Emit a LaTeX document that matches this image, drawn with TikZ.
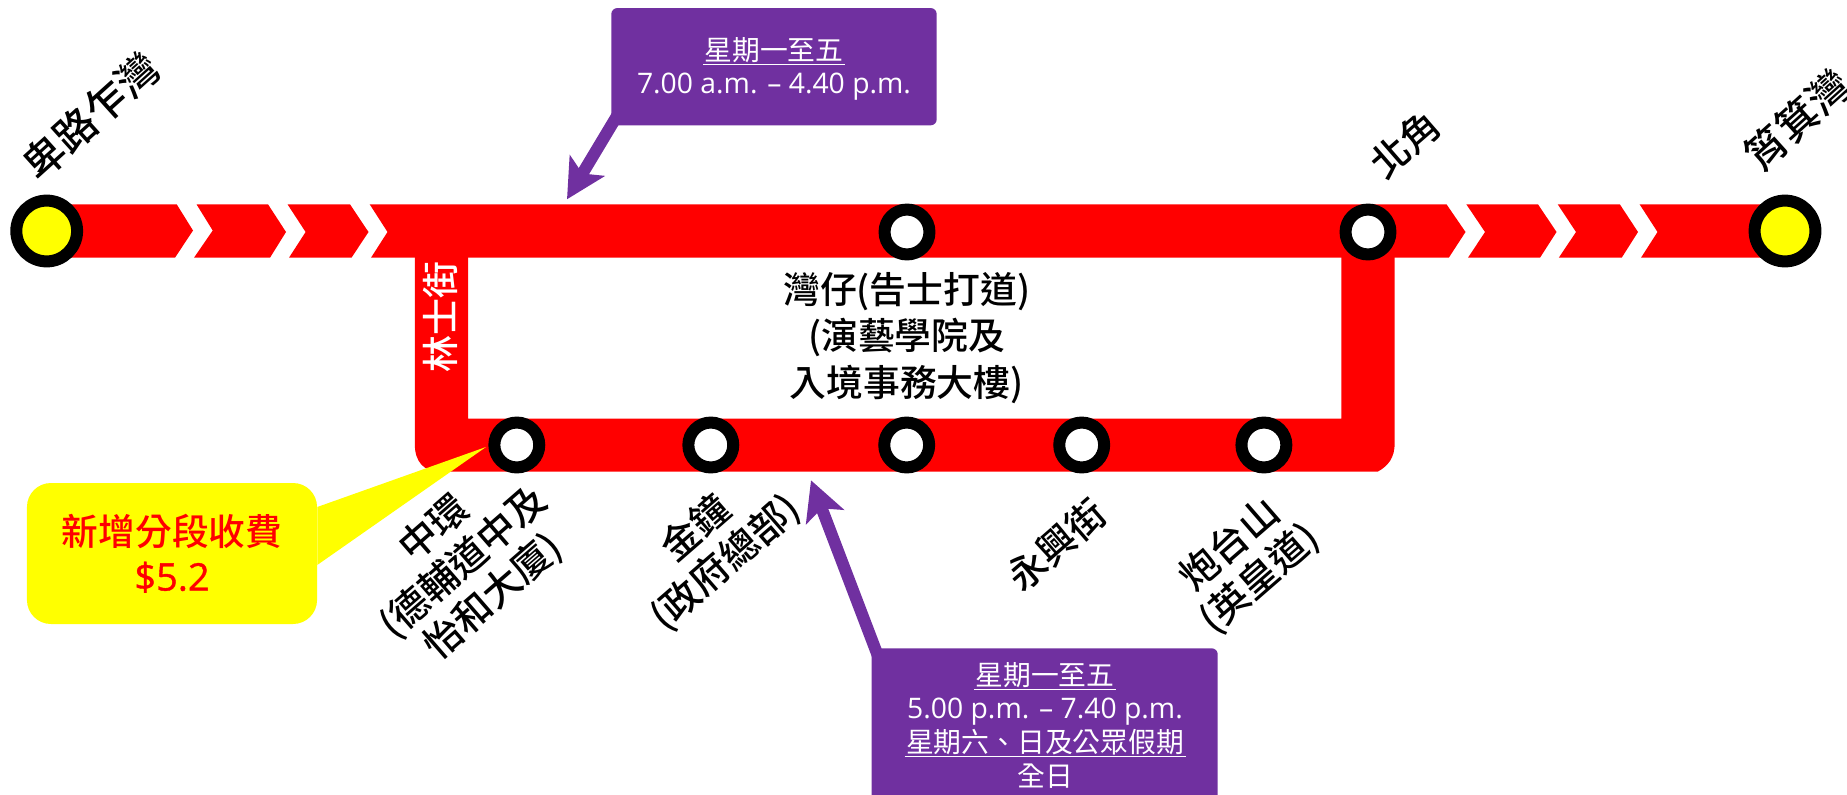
\documentclass[tikz,border=0pt]{standalone}
\usepackage{fontspec}
\usetikzlibrary{arrows.meta}
\setmainfont{Noto Sans CJK TC Medium}
\newfontfamily\cjkreg{Noto Sans CJK TC}
\newfontfamily\latinf{Open Sans}
\newfontfamily\latinfb[FakeBold=1]{Open Sans}
\definecolor{trackred}{HTML}{FF0000}
\definecolor{boxpurple}{HTML}{7030A0}
\definecolor{noteyellow}{HTML}{FFFF00}
\newcommand\ulline[1]{\setbox0=\hbox{#1}\leavevmode\rlap{\hskip-1.5pt\rule[-5pt]{\dimexpr\wd0+3pt\relax}{1.4pt}}\box0 }
\tikzset{
  track/.style={fill=trackred,draw=none},
  stop/.style={circle,draw=black,fill=white,line width=12pt,minimum size=44.9pt,inner sep=0pt},
  terminal/.style={circle,draw=black,fill=noteyellow,line width=12pt,minimum size=60.8pt,inner sep=0pt},
  place/.style={text=black,align=center,inner sep=0pt,rotate=41,font=\fontsize{38.5}{45}\selectfont},
  endplace/.style={text=black,align=center,inner sep=0pt,rotate=42,font=\fontsize{41.5}{45}\selectfont},
  notice/.style={fill=boxpurple,draw=none,rounded corners=6pt,inner sep=0pt},
  noticetext/.style={text=white,align=center,inner sep=0pt,font=\cjkreg\fontsize{27.8}{33.7}\selectfont},
  pointer/.style={draw=boxpurple,line width=12pt,-{Stealth[length=39pt,width=40pt,inset=9pt,fill=boxpurple]}},
}
\begin{document}
\begin{tikzpicture}[x=1pt,y=-1pt]
\useasboundingbox (0,0) rectangle (1847,795);
% chevron track along the top
\fill[track] (46.7,204.3) -- (176.7,204.3) -- (193,230.5) -- (175,257.7) -- (46.7,257.7) -- cycle;
\fill[track] (196.5,204.3) -- (268,204.3) -- (286,232) -- (270,257.7) -- (194,257.7) -- (212.7,230.5) -- cycle;
\fill[track] (287.5,204.3) -- (350,204.3) -- (368.5,232) -- (351.5,257.7) -- (289,257.7) -- (305.6,232) -- cycle;
\fill[track] (369.7,204.3) -- (1446.5,204.3) -- (1465.5,232) -- (1448.8,257.7) -- (371,257.7) -- (387.5,232) -- cycle;
\fill[track] (1466.3,204.3) -- (1538,204.3) -- (1556.5,232) -- (1540,257.7) -- (1468,257.7) -- (1485,232) -- cycle;
\fill[track] (1557.7,204.3) -- (1619.8,204.3) -- (1638,232) -- (1621.7,257.7) -- (1558.8,257.7) -- (1576,232) -- cycle;
\fill[track] (1639.6,204.3) -- (1785,204.3) -- (1785,257.7) -- (1641,257.7) -- (1657.5,232) -- cycle;
% loop
\fill[track] (414.8,250) -- (414.8,444) .. controls (414.8,462) and (424,471.7) .. (440,471.7)
  -- (1377.6,471.7) .. controls (1388,466) and (1394.7,458) .. (1394.7,443)
  -- (1394.7,250) -- (1341.4,250) -- (1341.4,418.7) -- (468.2,418.7) -- (468.2,250) -- cycle;
% yellow callout
\coordinate (calloutTip) at (486,447);
\node[fill=noteyellow,rounded corners=24pt,minimum width=290.1pt,minimum height=141pt,inner sep=0pt,
  align=center,text=trackred,font=\fontsize{36.7}{45}\selectfont] (callout) at (172,553.5)
  {新增分段收費\\{\latinfb\fontsize{38}{45}\selectfont\$5.2}};
\fill[noteyellow] ([yshift=46.5pt]callout.east) -- (calloutTip) -- ([yshift=-11.5pt]callout.east) -- cycle;
% stations
\node[terminal] (west) at (46.7,231) {};
\node[terminal] (east) at (1785,231) {};
\node[stop] (wanchai) at (907,232) {};
\node[stop] (northpoint) at (1368,232) {};
\node[stop] (central) at (516.8,445) {};
\node[stop] (admiralty) at (710.8,445) {};
\node[stop] (wanchaib) at (906.7,445) {};
\node[stop] (wingheng) at (1081.7,445) {};
\node[stop] (fortress) at (1263.9,445) {};
% labels
\node[endplace] (westlabel) at (91,116) {卑路乍灣};
\node[endplace] (eastlabel) at (1797,120) {筲箕灣};
\node[place] (nplabel) at (1405,144) {北角};
\node[place] (centrallabel) at (464,563) {中環\\(德輔道中及\\怡和大廈)};
\node[place] (admlabel) at (711,546) {金鐘\\(政府總部)};
\node[place] (winglabel) at (1056,545) {永興街};
\node[place] (fortlabel) at (1245,562) {炮台山\\(英皇道)};
\node[text=black,align=center,inner sep=0pt,font=\fontsize{36.8}{46.5}\selectfont] (midlabel) at (906.7,338) {灣仔(告士打道)\\(演藝學院及\\入境事務大樓)};
\node[text=white,inner sep=0pt,rotate=90,font=\fontsize{37}{36}\selectfont] (lockhart) at (440.6,317) {林士街};
% purple notices
\coordinate (tipA) at (567,199.3);
\coordinate (tipB) at (811,480.3);
\node[notice,minimum width=325.4pt,minimum height=117.3pt] (boxA) at (774,66.7) {};
\node[noticetext] (boxAtext) at (774,69) {\ulline{星期一至五}\\{\latinf\fontsize{28.3}{33.7}\selectfont 7.00 a.m. – 4.40 p.m.}};
\draw[pointer] ([shift={(8.7,-14.3)}]boxA.south west) -- (tipA);
\node[notice,minimum width=346pt,minimum height=163.4pt] (boxB) at (1044.7,730) {};
\node[noticetext] (boxBtext) at (1045,725) {\ulline{星期一至五}\\{\latinf\fontsize{28.3}{33.7}\selectfont 5.00 p.m. – 7.40 p.m.}\\\ulline{星期六、日及公眾假期}\\全日};
\draw[pointer] ([shift={(8.3,12.7)}]boxB.north west) -- (tipB);
\end{tikzpicture}
\end{document}
